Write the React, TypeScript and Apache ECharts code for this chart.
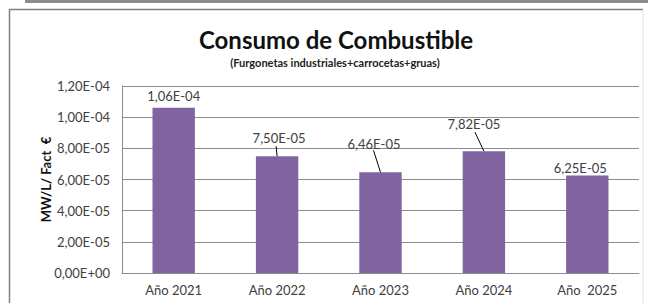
import React, { useEffect, useRef } from "react";
import * as echarts from "echarts";

const categories = ["Año 2021", "Año 2022", "Año 2023", "Año 2024", "Año  2025"];
const values = [1.06e-4, 7.5e-5, 6.46e-5, 7.82e-5, 6.25e-5];
const titleText = "Consumo de Combustible";
const subtitleText = "(Furgonetas industriales+carrocetas+gruas)";
const yAxisName = "MW/L/ Fact  €";

// label displacement (px) relative to default "top" position, Excel-style moved labels
const labelOffsets: number[][] = [[0, 0], [2, -7], [-6.5, -17], [-10, -16], [-7, 4]];
// leader line start (px) relative to the bar's top centre; null = no leader
const leaderStarts: (number[] | null)[] = [null, [-1, -10], [-7, -22], [-9, -19], null];

const FONT = "Lato, 'Noto Sans', sans-serif";

function sci(v: number): string {
  if (v === 0) return "0,00E+00";
  let exp = Math.floor(Math.log10(Math.abs(v)) + 1e-9);
  let mant = v / Math.pow(10, exp);
  if (Math.round(mant * 100) / 100 >= 10) {
    exp += 1;
    mant = v / Math.pow(10, exp);
  }
  const m = mant.toFixed(2).replace(".", ",");
  const sign = exp < 0 ? "-" : "+";
  const e = String(Math.abs(exp)).padStart(2, "0");
  return `${m}E${sign}${e}`;
}

export default function App() {
  const ref = useRef<HTMLDivElement>(null);
  useEffect(() => {
    if (!ref.current) return;
    const chart = echarts.init(ref.current, undefined, { renderer: "svg" });
    chart.setOption({
      animation: false,
      backgroundColor: "#ffffff",
      title: [
        {
          text: titleText,
          left: 331,
          top: 22,
          textAlign: "center",
          textStyle: { fontFamily: FONT, fontSize: 24, fontWeight: "bold", color: "#111" },
        },
        {
          text: subtitleText,
          left: 330,
          top: 52,
          textAlign: "center",
          textStyle: { fontFamily: FONT, fontSize: 11, fontWeight: "bold", color: "#222" },
        },
      ],
      graphic: [
        {
          type: "line",
          shape: { x1: 25, y1: 1.5, x2: 648, y2: 1.5 },
          style: { stroke: "#8c8c8c", lineWidth: 3 },
        },
        {
          type: "polyline",
          shape: { points: [[9.5, 303], [9.5, 9.5], [643, 9.5]] },
          style: { stroke: "#7f7f7f", fill: "none", lineWidth: 1.5 },
        },
        {
          type: "line",
          shape: { x1: 643, y1: 9.5, x2: 643, y2: 303 },
          style: { stroke: "#e2e2e2", lineWidth: 1 },
        },
      ],
      grid: { left: 122, right: 9, top: 86, bottom: 30 },
      xAxis: {
        type: "category",
        data: categories,
        axisLine: { show: true, lineStyle: { color: "#8c8c8c", width: 1 } },
        axisTick: { show: false },
        axisLabel: { fontFamily: FONT, fontSize: 13, color: "#404040", margin: 10 },
      },
      yAxis: {
        type: "value",
        min: 0,
        max: 1.2e-4,
        interval: 2e-5,
        name: yAxisName,
        nameLocation: "middle",
        nameGap: 70,
        nameMoveOverlap: false,
        nameTextStyle: { fontFamily: FONT, fontSize: 13, fontWeight: "bold", color: "#111" },
        axisLine: { show: true, lineStyle: { color: "#8c8c8c", width: 1 } },
        axisTick: { show: false },
        splitLine: { show: true, lineStyle: { color: "#8c8c8c", width: 1 } },
        axisLabel: {
          fontFamily: FONT,
          fontSize: 13,
          color: "#404040",
          margin: 12,
          formatter: (v: number) => sci(v),
        },
      },
      series: [
        {
          type: "bar",
          data: values.map((v, i) => ({
            value: v,
            label: { offset: labelOffsets[i] },
          })),
          barWidth: "41%",
          itemStyle: { color: "#8064a2" },
          label: {
            show: true,
            position: "top",
            distance: 5,
            fontFamily: FONT,
            fontSize: 13,
            color: "#404040",
            formatter: (p: any) => sci(p.value),
          },
        },
        {
          type: "custom",
          data: values.map((v, i) => [i, v]),
          encode: { x: 0, y: 1 },
          z: 5,
          silent: true,
          renderItem: (params: any, api: any) => {
            const i = params.dataIndex;
            const s = leaderStarts[i];
            if (!s) return null;
            const p = api.coord([i, values[i]]);
            return {
              type: "line",
              shape: { x1: p[0] + s[0], y1: p[1] + s[1], x2: p[0], y2: p[1] },
              style: { stroke: "#000", lineWidth: 1 },
            };
          },
        },
      ],
    });
    return () => chart.dispose();
  }, []);
  return (
    <div
      ref={ref}
      style={{ position: "absolute", left: 0, top: 0, width: 648, height: 303 }}
    />
  );
}
